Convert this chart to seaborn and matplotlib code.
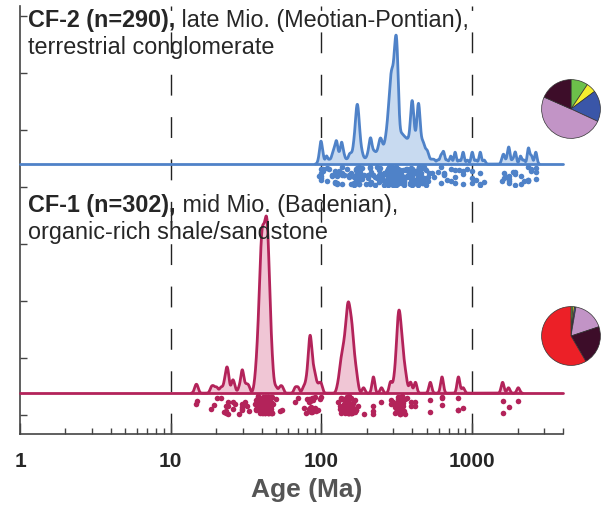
import numpy as np
import pandas as pd
import matplotlib
matplotlib.use('Agg')
import matplotlib.pyplot as plt
import seaborn as sns

cf1_age = [14.6, 15.0, 18.6, 19.3, 20.2, 21.5, 22.5, 23.3, 24.0, 25.7, 26.5, 28.5, 29.8, 31.0, 32.0, 33.0,
           36, 37, 38, 39, 40, 41, 42, 43, 44, 45, 46, 47, 48, 50, 53, 55, 67, 70,
           76, 79, 80, 82, 83, 84, 85, 86, 88, 90, 92, 95, 98, 100,
           128, 132, 135, 138, 141, 144, 147, 150, 153, 156, 159, 162, 166, 170, 174, 190,
           221, 250, 287, 300, 308, 314, 318, 322, 326, 330, 335, 340, 346, 352, 360, 368, 390, 420,
           527, 630, 810, 870, 1590, 1740, 2020]
cf1_n = [1, 1, 1, 1, 1, 1, 1, 3, 3, 2, 1, 1, 4, 1, 1, 1,
         1, 3, 6, 10, 15, 14, 13, 15, 14, 9, 5, 3, 1, 1, 1, 1, 1, 1,
         1, 1, 1, 2, 3, 3, 3, 2, 2, 2, 1, 1, 1, 1,
         1, 2, 3, 3, 4, 4, 6, 7, 6, 5, 5, 4, 3, 2, 1, 1,
         3, 1, 2, 1, 2, 2, 3, 4, 4, 4, 4, 3, 3, 2, 2, 1, 2, 2,
         2, 3, 3, 1, 2, 1, 1]

cf2_age = [96, 99, 102, 108, 113, 118, 122, 126, 131, 136, 141, 147, 153, 158,
           164, 169, 173, 177, 181, 186, 192, 198,
           204, 210, 214, 220, 226, 233, 240, 246, 252, 258, 264,
           270, 276, 282, 288, 294, 300, 306, 312, 318, 324, 330, 336,
           342, 348, 355, 362, 370, 378,
           386, 393, 400, 407, 414, 421, 428, 435, 442, 449, 456,
           463, 472, 482, 494, 506, 520, 540, 560, 590,
           620, 645, 680, 720, 770, 820, 870, 930, 1000, 1060, 1130, 1200,
           1580, 1620, 1700, 1750, 1850, 1930, 2090, 2200, 2360, 2470, 2640]
cf2_n = [1, 5, 2, 2, 1, 2, 3, 5, 2, 5, 2, 1, 2, 2,
         4, 7, 9, 6, 3, 2, 1, 1,
         2, 4, 3, 2, 2, 2, 3, 4, 3, 2, 3,
         4, 6, 8, 11, 11, 10, 13, 15, 14, 7, 3, 3,
         3, 3, 3, 3, 3, 3,
         3, 6, 8, 5, 3, 2, 3, 6, 7, 4, 2,
         2, 3, 2, 2, 2, 1, 1, 1, 1,
         2, 3, 1, 2, 3, 1, 3, 1, 3, 1, 3, 1,
         1, 2, 1, 4, 1, 3, 2, 1, 4, 2, 3]

# source fractions (%) for the pies
pie_colors = ['#6cc04a', '#f4ee2e', '#3a56a8', '#c294c6', '#3d0d29', '#ec2027']
cf1_pie = [1.1, 0.8, 0.8, 17.2, 21.7, 58.4]
cf2_pie = [9.4, 5.4, 17.1, 49.7, 18.4, 0.0]

x_ticks = [1, 10, 100, 1000]
x_labels = ['1', '10', '100', '1000']

sns.set_style('ticks')
plt.rcParams['font.family'] = ['Liberation Sans', 'DejaVu Sans']

cf1 = pd.DataFrame({'age': np.repeat(cf1_age, cf1_n)})
cf2 = pd.DataFrame({'age': np.repeat(cf2_age, cf2_n)})

W, H = 603, 506
fig = plt.figure(figsize=(W / 100, H / 100), dpi=100)
ax = fig.add_axes([20 / W, 1 - 435 / H, 543 / W, 428 / H])
ax.set_xscale('log')
ax.set_ylim(-0.33, 7.17)

def frac(v):
    return (v + 0.33) / 7.5

samples = [
    # data, line colour, fill colour, baseline, peak top, dot centre, kernel width (log10 units)
    (cf1, '#b3235a', '#f0c6d5', 0.386, 3.49, 0.175, 0.0095),
    (cf2, '#4f82c8', '#c8daf0', 4.40, 6.66, 4.19, 0.008),
]

np.random.seed(3)
for df, lc, fc, base, top, dots, kw in samples:
    bw = kw / np.log10(df['age']).std()
    ak = ax.inset_axes([0, frac(base), 1, frac(top) - frac(base)], sharex=ax)
    sns.kdeplot(data=df, x='age', log_scale=True, bw_method=bw, gridsize=3000,
                fill=True, color=fc, alpha=1, linewidth=0, ax=ak)
    sns.kdeplot(data=df, x='age', log_scale=True, bw_method=bw, gridsize=3000,
                color=lc, linewidth=2, ax=ak)
    ak.axhline(0, color=lc, linewidth=2)
    ymax = ak.lines[0].get_ydata().max()
    ak.set_ylim(0, ymax)
    for a in ak.get_children():
        a.set_clip_on(False)
    ak.set_xlabel('')
    ak.set_ylabel('')
    ak.tick_params(labelbottom=False, labelleft=False)
    ak.set_axis_off()

    ad = ax.inset_axes([0, frac(dots - 0.2), 1, 0.4 / 7.5], sharex=ax)
    sns.stripplot(data=df, x='age', log_scale=True, jitter=0.4, size=4,
                  color=lc, linewidth=0, ax=ad)
    ad.set_ylim(-0.5, 0.5)
    ad.set_xlabel('')
    ad.set_ylabel('')
    ad.tick_params(labelbottom=False, labelleft=False)
    ad.set_axis_off()

for xv in [10, 100, 1000]:
    ax.axvline(xv, color='#222222', linewidth=1.0, linestyle=(0, (15, 15.5)), zorder=0)

ax.set_xlim(1, 4000)
ax.set_xticks(x_ticks)
ax.set_xticklabels(x_labels, fontsize=15, fontweight='bold')
ax.set_yticks(range(8))
ax.set_yticklabels([])
ax.tick_params(axis='x', which='major', direction='in', length=8, width=1, color='#444444', pad=12)
ax.tick_params(axis='x', which='minor', direction='in', length=4, width=1, color='#444444')
ax.tick_params(axis='y', direction='in', length=5, width=1, color='#444444')
sns.despine(ax=ax)
for s in ['left', 'bottom']:
    ax.spines[s].set_color('#444444')
    ax.spines[s].set_linewidth(1.2)
fig.text(307 / W, 1 - 490 / H, 'Age (Ma)', fontsize=19, fontweight='bold',
         color='#555555', ha='center', va='center')

# sample captions
for y1, y2, bold, rest, line2 in [
        (27, 54, 'CF-2 (n=290),', ' late Mio. (Meotian-Pontian),', 'terrestrial conglomerate'),
        (212, 239, 'CF-1 (n=302),', ' mid Mio. (Badenian),', 'organic-rich shale/sandstone')]:
    t = fig.text(28 / W, 1 - y1 / H, bold, fontsize=16.8, fontweight='bold', va='baseline')
    ax.annotate(rest, xy=(1, 0), xycoords=t, fontsize=16.8, va='bottom',
                annotation_clip=False)
    fig.text(28 / W, 1 - y2 / H, line2, fontsize=16.8, va='baseline')

for vals, cy in [(cf2_pie, 110), (cf1_pie, 337)]:
    ap = fig.add_axes([541 / W, 1 - (cy + 30) / H, 60 / W, 60 / H])
    keep = [i for i, v in enumerate(vals) if v > 0]
    ap.pie([vals[i] for i in keep], colors=[pie_colors[i] for i in keep],
           startangle=90, counterclock=False,
           wedgeprops=dict(edgecolor='#333333', linewidth=0.5))
    ap.set_xlim(-1.02, 1.02)
    ap.set_ylim(-1.02, 1.02)

fig.savefig('out.png', dpi=100)
